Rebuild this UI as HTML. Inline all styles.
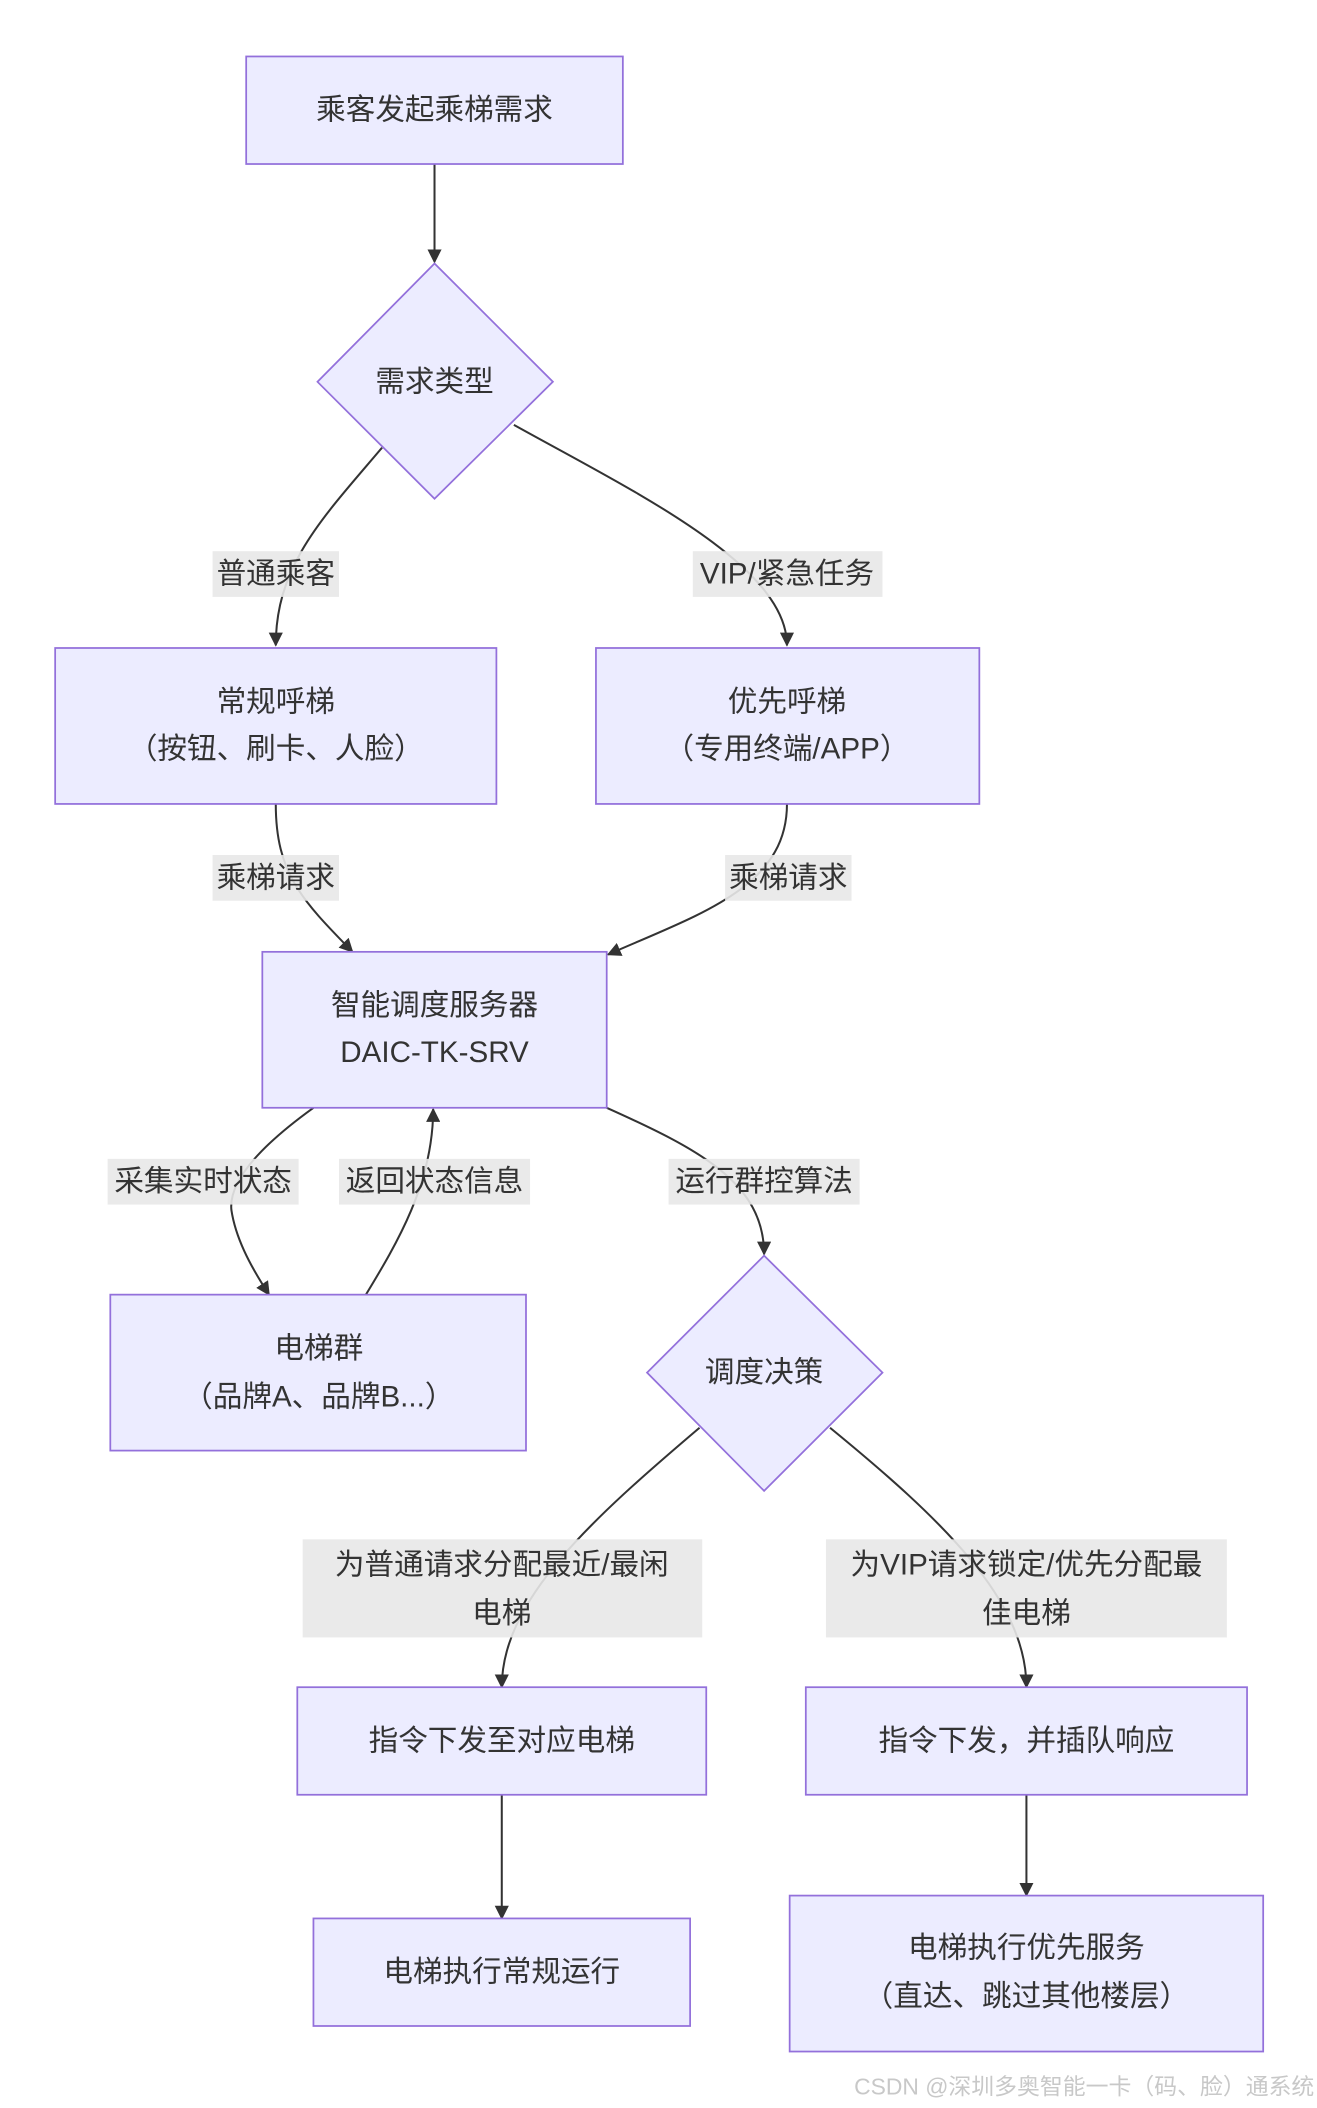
<!DOCTYPE html>
<html><head><meta charset="utf-8"><style>
html,body{margin:0;padding:0;background:#fff;}
svg{display:block;}
text{font-family:"Liberation Sans","Noto Sans CJK SC",sans-serif;fill:#333;font-size:22px;text-anchor:middle;dominant-baseline:central;}
.n{fill:#ECECFF;stroke:#9370DB;stroke-width:1.3;}
.e{fill:none;stroke:#333;stroke-width:1.5;}
.l{fill:#e8e8e8;opacity:0.9;}
</style></head><body>
<svg width="1317" height="2108" viewBox="0 0 979 1568" preserveAspectRatio="none" xmlns="http://www.w3.org/2000/svg">
<defs><marker id="a" viewBox="0 0 10 10" refX="9" refY="5" markerWidth="7" markerHeight="7" orient="auto"><path d="M0,0L10,5L0,10z" fill="#333"/></marker></defs>
<!-- edges -->
<path class="e" marker-end="url(#a)" d="M323,122L323,195"/>
<path class="e" marker-end="url(#a)" d="M284,333C240,385 205,420 205,480"/>
<path class="e" marker-end="url(#a)" d="M382,316C470,365 585,420 585,480"/>
<path class="e" marker-end="url(#a)" d="M205,598C205,650 225,670 262,708"/>
<path class="e" marker-end="url(#a)" d="M585,598C585,660 520,680 452,710"/>
<path class="e" marker-end="url(#a)" d="M233,824C190,855 170,880 172,900C175,920 185,940 200,963"/>
<path class="e" marker-end="url(#a)" d="M272,963C295,925 322,880 322,825"/>
<path class="e" marker-end="url(#a)" d="M451,824C520,855 568,880 568,933"/>
<path class="e" marker-end="url(#a)" d="M520,1062C440,1130 373,1190 373,1255"/>
<path class="e" marker-end="url(#a)" d="M617,1062C700,1130 763,1190 763,1255"/>
<path class="e" marker-end="url(#a)" d="M373,1335L373,1427"/>
<path class="e" marker-end="url(#a)" d="M763,1335L763,1410"/>
<!-- labels -->
<rect class="l" x="158" y="410" width="94" height="34"/><text x="205" y="427">普通乘客</text>
<rect class="l" x="515" y="410" width="141" height="34"/><text x="585" y="427">VIP/紧急任务</text>
<rect class="l" x="158" y="636" width="94" height="34"/><text x="205" y="653">乘梯请求</text>
<rect class="l" x="539" y="636" width="94" height="34"/><text x="586" y="653">乘梯请求</text>
<rect class="l" x="80" y="862" width="142" height="34"/><text x="151" y="879">采集实时状态</text>
<rect class="l" x="252" y="862" width="142" height="34"/><text x="323" y="879">返回状态信息</text>
<rect class="l" x="497" y="862" width="142" height="34"/><text x="568" y="879">运行群控算法</text>
<rect class="l" x="225" y="1145" width="297" height="73"/><text x="373" y="1164">为普通请求分配最近/最闲</text><text x="373" y="1200">电梯</text>
<rect class="l" x="614" y="1145" width="298" height="73"/><text x="763" y="1164">为VIP请求锁定/优先分配最</text><text x="763" y="1200">佳电梯</text>
<!-- nodes -->
<rect class="n" x="183" y="42" width="280" height="80"/><text x="323" y="82">乘客发起乘梯需求</text>
<polygon class="n" points="323,196 411,284 323,371 236,284"/><text x="323" y="284">需求类型</text>
<rect class="n" x="41" y="482" width="328" height="116"/><text x="205" y="522">常规呼梯</text><text x="205" y="557">（按钮、刷卡、人脸）</text>
<rect class="n" x="443" y="482" width="285" height="116"/><text x="585" y="522">优先呼梯</text><text x="585" y="557">（专用终端/APP）</text>
<rect class="n" x="195" y="708" width="256" height="116"/><text x="323" y="748">智能调度服务器</text><text x="323" y="783">DAIC-TK-SRV</text>
<rect class="n" x="82" y="963" width="309" height="116"/><text x="237" y="1003">电梯群</text><text x="237" y="1039">（品牌A、品牌B...）</text>
<polygon class="n" points="568,934 656,1021 568,1109 481,1021"/><text x="568" y="1021">调度决策</text>
<rect class="n" x="221" y="1255" width="304" height="80"/><text x="373" y="1295">指令下发至对应电梯</text>
<rect class="n" x="599" y="1255" width="328" height="80"/><text x="763" y="1295">指令下发，并插队响应</text>
<rect class="n" x="233" y="1427" width="280" height="80"/><text x="373" y="1467">电梯执行常规运行</text>
<rect class="n" x="587" y="1410" width="352" height="116"/><text x="763" y="1449">电梯执行优先服务</text><text x="763" y="1485">（直达、跳过其他楼层）</text>
<text x="977" y="1552" style="text-anchor:end;font-size:17px;fill:#c8c8c8">CSDN @深圳多奥智能一卡（码、脸）通系统</text>
</svg>
</body></html>
